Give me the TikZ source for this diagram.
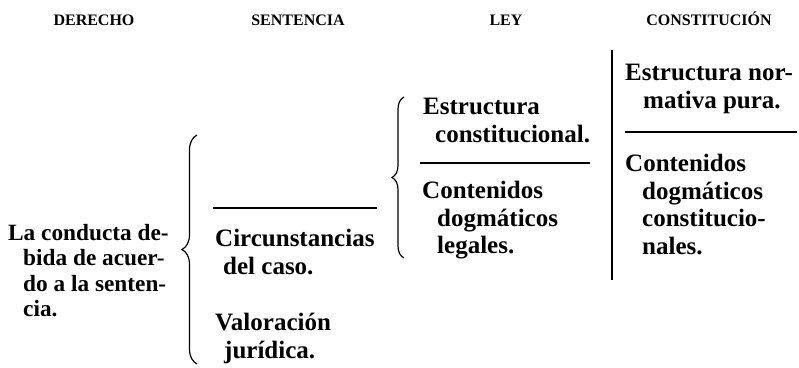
\documentclass[tikz,border=0pt]{standalone}
\usepackage{fontspec}
\setmainfont{Liberation Serif}
\usetikzlibrary{decorations.pathreplacing}
\tikzstyle{head} = [inner sep=0pt, anchor=base, font=\fontsize{16}{16}\selectfont\bfseries]
\tikzstyle{txt} = [inner sep=0pt, anchor=north west, align=left, font=\fontsize{25}{27.5}\selectfont\bfseries]
\tikzstyle{rule} = [line width=1.5pt]
\tikzstyle{bigbrace} = [line width=1.2pt, decorate, decoration={brace,amplitude=15pt}]
\tikzstyle{smallbrace} = [line width=1.2pt, decorate, decoration={brace,amplitude=12pt}]

\begin{document}
\begin{tikzpicture}[x=1pt,y=-1pt]
	\useasboundingbox (0,0) rectangle (799,367);

	% the heads of the four columns
	\node [head] (hder) at (94,25) {DERECHO};
	\node [head] (hsent) at (298,25) {SENTENCIA};
	\node [head] (hley) at (506,25) {LEY};
	\node [head] (hconst) at (709,25) {CONSTITUCIÓN};

	% derecho
	\node [txt,font=\fontsize{23.3}{25.5}\selectfont\bfseries] (conducta) at (8,224) {La conducta de-\\\hspace*{15pt}bida de acuer-\\\hspace*{15pt}do a la senten-\\\hspace*{15pt}cia.};

	% sentencia
	\coordinate (sbot) at (197,364);
	\coordinate (stop) at (197,135);
	\draw [bigbrace] (sbot) -- (stop);
	\coordinate (srulea) at (213,208);
	\coordinate (sruleb) at (377,208);
	\draw [rule] (srulea) -- (sruleb);
	\node [txt] (circ) at (215,229) {Circunstancias\\\hspace*{8pt}del caso.};
	\node [txt] (valor) at (215,313) {Valoración\\\hspace*{9pt}jurídica.};

	% ley
	\coordinate (lbot) at (404,258);
	\coordinate (ltop) at (404,97);
	\draw [smallbrace] (lbot) -- (ltop);
	\node [txt] (lestr) at (423,98) {Estructura\\\hspace*{12pt}constitucional.};
	\coordinate (lrulea) at (420,163);
	\coordinate (lruleb) at (590,163);
	\draw [rule] (lrulea) -- (lruleb);
	\node [txt] (lcont) at (422,181) {Contenidos\\\hspace*{15pt}dogmáticos\\\hspace*{15pt}legales.};

	% constitucion
	\coordinate (ctop) at (612,50);
	\coordinate (cbot) at (612,280);
	\draw [line width=1.3pt] (ctop) -- (cbot);
	\node [txt] (cestr) at (625,64) {Estructura nor-\\\hspace*{18pt}mativa pura.};
	\coordinate (crulea) at (625,132);
	\coordinate (cruleb) at (797,132);
	\draw [rule] (crulea) -- (cruleb);
	\node [txt] (ccont) at (625,154) {Contenidos\\\hspace*{17pt}dogmáticos\\\hspace*{17pt}constitucio-\\\hspace*{17pt}nales.};

\end{tikzpicture}
\end{document}
